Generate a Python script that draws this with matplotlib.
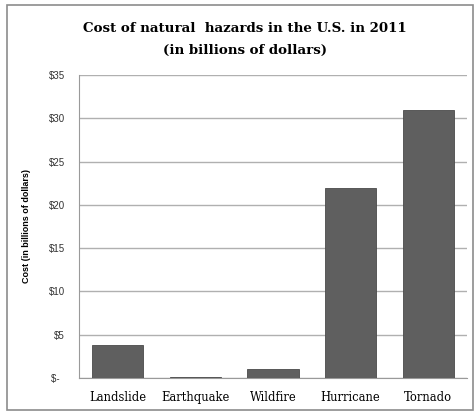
import matplotlib.pyplot as plt
from matplotlib.patches import Rectangle

# Datos
hazards = ['Landslide', 'Earthquake', 'Wildfire', 'Hurricane', 'Tornado']
cost = [3.8, 0.1, 1.0, 22.0, 31.0]
yticks = [0, 5, 10, 15, 20, 25, 30, 35]
ytick_labels = ['$-  ', '$5', '$10', '$15', '$20', '$25', '$30', '$35']

fig = plt.figure(figsize=(4.76, 4.12), dpi=100)
# marco exterior
fig.add_artist(Rectangle((7 / 476, 2 / 412), 466 / 476, 405 / 412, transform=fig.transFigure,
                         fill=False, edgecolor='#8c8c8c', linewidth=1.2))

ax = fig.add_axes([0.166, 0.0825, 0.815, 0.7355])
x = range(len(hazards))
ax.bar(x, cost, width=0.66, color='#5f5f5f', edgecolor='#4a4a4a', linewidth=0.6, zorder=3)

ax.set_xlim(-0.5, 4.5)
ax.set_ylim(0, 35)
ax.set_yticks(yticks)
ax.set_yticklabels(ytick_labels, fontfamily='Liberation Sans', fontsize=7, color='#333333')
ax.set_xticks(list(x))
ax.set_xticklabels(hazards, fontfamily='DejaVu Serif', fontsize=8.3)
ax.tick_params(axis='x', length=0, pad=9)
ax.tick_params(axis='y', length=0, pad=10)
ax.grid(axis='y', color='#b0b0b0', linewidth=1, zorder=0)
for s in ['top', 'right']:
    ax.spines[s].set_visible(False)
ax.spines['left'].set_color('#9a9a9a')
ax.spines['bottom'].set_color('#9a9a9a')

ax.set_ylabel('Cost (in billions of dollars)', fontfamily='Liberation Sans', fontsize=6.5,
              fontweight='bold', labelpad=13)
fig.text(0.515, 0.904, 'Cost of natural  hazards in the U.S. in 2011\n(in billions of dollars)',
         ha='center', va='center', fontfamily='DejaVu Serif', fontweight='bold',
         fontsize=9.6, linespacing=1.95)

fig.savefig('out.png', dpi=100)
